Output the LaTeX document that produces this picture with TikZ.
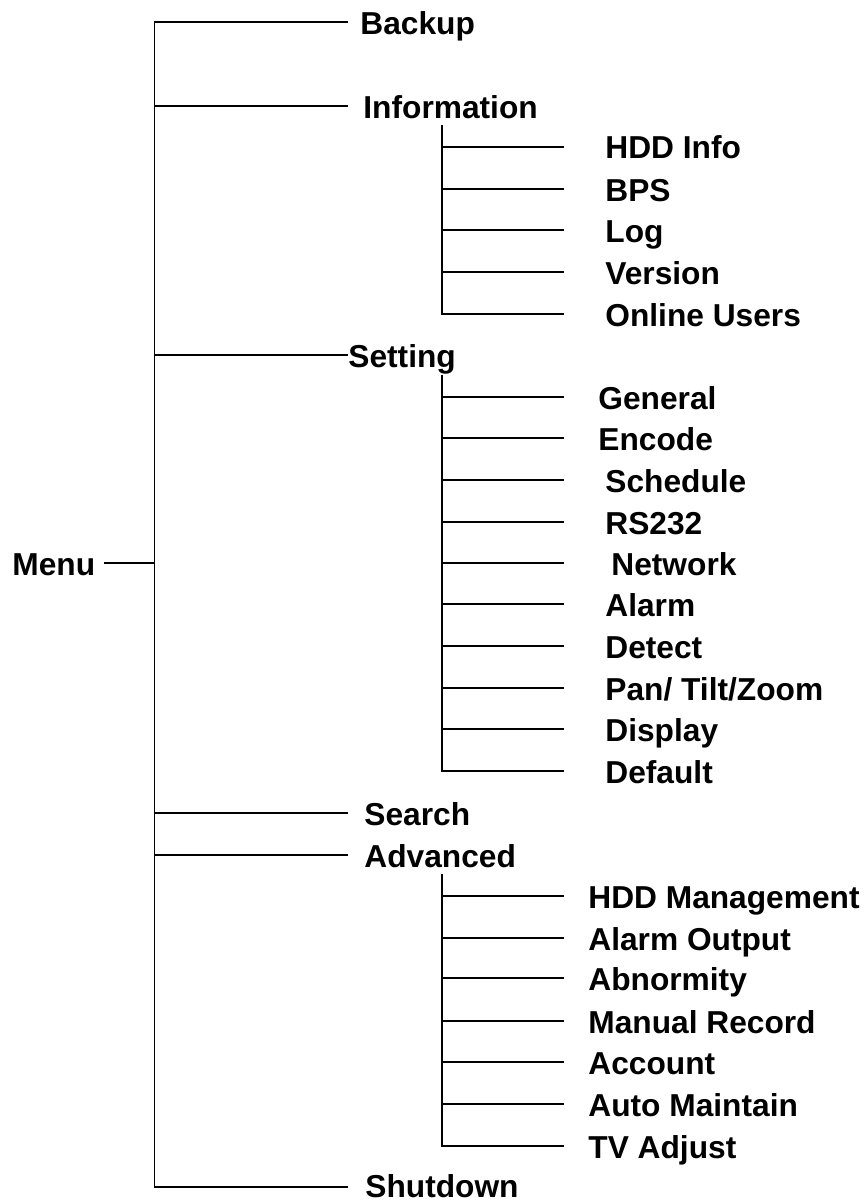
\documentclass[tikz,border=0pt]{standalone}
\usepackage{fontspec}
\setmainfont{Liberation Sans}
\begin{document}
\begin{tikzpicture}[x=0.5pt,y=-0.5pt,
  lbl/.style={anchor=west,inner sep=0pt,text height=11.35pt,text depth=0pt,
    font=\fontsize{15.85}{19}\selectfont\bfseries},
  ln/.style={line width=0.75pt,line cap=rect}]
\useasboundingbox (0,0) rectangle (864,1201);
% Menu
\node[lbl] (menu) at (12,564) {Menu};
\coordinate (menuR) at (105,563);
\coordinate (mtop) at (154.5,22);
\coordinate (mbot) at (154.5,1187);
\draw[ln] (mtop) -- (mbot);
\draw[ln] (menuR) -- (menuR -| mtop);
% main branches
\node[lbl] (backup) at (360,23) {Backup};
\node[lbl] (info) at (363,107) {Information};
\node[lbl] (setting) at (348,356) {Setting};
\node[lbl] (search) at (364,814) {Search};
\node[lbl] (adv) at (364,856) {Advanced};
\node[lbl] (shut) at (365,1186.5) {Shutdown};
\coordinate (e1) at (347,22);
\coordinate (e2) at (347,106);
\coordinate (e3) at (347,355);
\coordinate (e4) at (347,813);
\coordinate (e5) at (347,855);
\coordinate (e6) at (347,1187);
\foreach \e in {e1,e2,e3,e4,e5,e6} \draw[ln] (\e -| mtop) -- (\e);
% Information sub
\coordinate (itop) at (442,126);
\coordinate (ibot) at (442,314);
\draw[ln] (itop) -- (ibot);
\node[lbl] (hdd) at (605,147) {HDD Info};
\node[lbl] (bps) at (605,190) {BPS};
\node[lbl] (log) at (605,231) {Log};
\node[lbl] (ver) at (605,273) {Version};
\node[lbl] (onl) at (605,315) {Online Users};
\coordinate (i1) at (563,147);
\coordinate (i2) at (563,189);
\coordinate (i3) at (563,230);
\coordinate (i4) at (563,272);
\coordinate (i5) at (563,314);
\foreach \e in {i1,i2,i3,i4,i5} \draw[ln] (\e -| itop) -- (\e);
% Setting sub
\coordinate (stop) at (442,376);
\coordinate (sbot) at (442,771);
\draw[ln] (stop) -- (sbot);
\node[lbl] (gen) at (598,398) {General};
\node[lbl] (enc) at (598,439) {Encode};
\node[lbl] (sch) at (605,481) {Schedule};
\node[lbl] (rs) at (605,523) {RS232};
\node[lbl] (net) at (611,564) {Network};
\node[lbl] (alm) at (605,605) {Alarm};
\node[lbl] (det) at (605,647) {Detect};
\node[lbl] (ptz) at (605,689) {Pan/ Tilt/Zoom};
\node[lbl] (dsp) at (605,730) {Display};
\node[lbl] (dft) at (605,772) {Default};
\coordinate (s1) at (563,397);
\coordinate (s2) at (563,438);
\coordinate (s3) at (563,480);
\coordinate (s4) at (563,522);
\coordinate (s5) at (563,563);
\coordinate (s6) at (563,604);
\coordinate (s7) at (563,646);
\coordinate (s8) at (563,688);
\coordinate (s9) at (563,729);
\coordinate (s10) at (563,771);
\foreach \e in {s1,s2,s3,s4,s5,s6,s7,s8,s9,s10} \draw[ln] (\e -| stop) -- (\e);
% Advanced sub
\coordinate (atop) at (442,875);
\coordinate (abot) at (442,1146);
\draw[ln] (atop) -- (abot);
\node[lbl] (hddm) at (588,897) {HDD Management};
\node[lbl] (aout) at (588,939) {Alarm Output};
\node[lbl] (abn) at (588,979) {Abnormity};
\node[lbl] (man) at (588,1022) {Manual Record};
\node[lbl] (acc) at (588,1063) {Account};
\node[lbl] (auto) at (588,1105) {Auto Maintain};
\node[lbl] (tv) at (588,1147) {TV Adjust};
\coordinate (a1) at (563,896);
\coordinate (a2) at (563,938);
\coordinate (a3) at (563,978);
\coordinate (a4) at (563,1021);
\coordinate (a5) at (563,1062);
\coordinate (a6) at (563,1104);
\coordinate (a7) at (563,1146);
\foreach \e in {a1,a2,a3,a4,a5,a6,a7} \draw[ln] (\e -| atop) -- (\e);
\end{tikzpicture}
\end{document}
